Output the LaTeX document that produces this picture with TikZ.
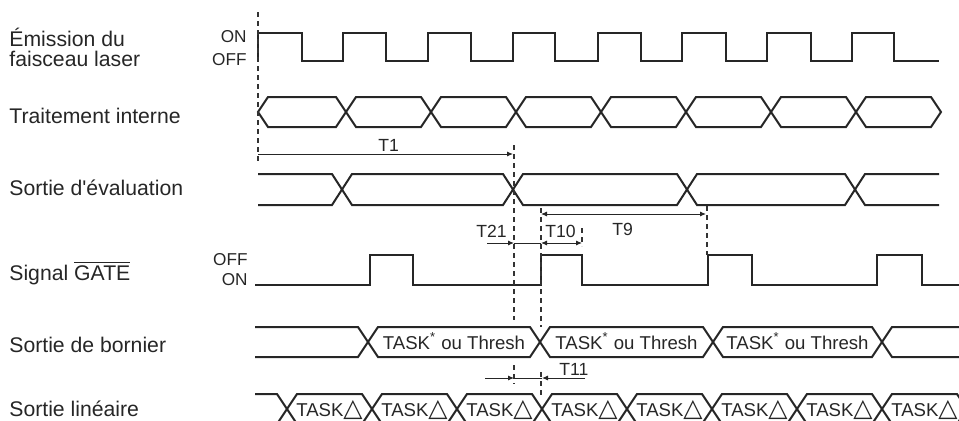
\documentclass[tikz,border=0pt]{standalone}
\usepackage{fontspec}
\setmainfont{Liberation Sans}
\newfontfamily\symfont{DejaVu Sans}
\usetikzlibrary{arrows.meta}

\begin{document}
\begin{tikzpicture}[
        % unit = one pixel of the chart, y pointing down
        x=0.5pt, y=-0.5pt,
        wave/.style={line width=1pt, black!85},
        guide/.style={line width=0.6pt, black!80, dash pattern=on 2.5pt off 2pt},
        dim/.style={line width=0.5pt, black!85},
        tip/.style={-{Latex[length=3pt,width=2.6pt]}},
        both/.style={{Latex[length=3pt,width=2.6pt]}-{Latex[length=3pt,width=2.6pt]}},
        label_text/.style={font=\fontsize{10.6}{12}\selectfont, anchor=base west, inner sep=0pt, text=black!85},
        level_text/.style={font=\fontsize{8.6}{10}\selectfont, anchor=base east, inner sep=0pt, text=black!85},
        bus_text/.style={font=\fontsize{9.3}{11}\selectfont, anchor=base, inner sep=0pt, text=black!85},
        time_text/.style={font=\fontsize{8.8}{10}\selectfont, anchor=base west, inner sep=0pt, text=black!85}
    ]

    \useasboundingbox (0,0) rectangle (959,420);
    \clip (0,0) rectangle (959,420);

    % --- 1. NOMS DES SIGNAUX ---
    \node[label_text] (emis1) at (9,46) {Émission du};
    \node[label_text] (emis2) at (9,66) {faisceau laser};
    \node[label_text] (trait) at (9,123) {Traitement interne};
    \node[label_text] (eval) at (9,195) {Sortie d\textquotesingle évaluation};
    \node[label_text] (gate) at (9,280) {Signal $\overline{\mbox{GATE}}$};
    \node[label_text] (born) at (9,352) {Sortie de bornier};
    \node[label_text] (lin) at (9,416) {Sortie linéaire};

    \node[level_text] (on1) at (247,42) {ON};
    \node[level_text] (off1) at (247,65) {OFF};
    \node[level_text] (off2) at (248,265) {OFF};
    \node[level_text] (on2) at (248,285) {ON};

    % --- 2. CHRONOGRAMMES ---

    % Emission laser
    \draw[wave] (258,61) foreach \r/\f in {258/302, 343/386, 428/471, 513/555, 598/641, 682/726, 767/811, 852/894}
        { -- (\r,61) -- (\r,33) -- (\f,33) -- (\f,61) } -- (939,61);

    % Traitement interne
    \foreach \a/\b in {258/346, 346/431, 431/516, 516/601, 601/686, 686/771, 771/856, 856/941}
        \draw[wave] (\a,112) -- (\a+10,97) -- (\b-10,97) -- (\b,112) -- (\b-10,127) -- (\a+10,127) -- cycle;

    % Sortie d'evaluation
    \draw[wave] (258,174) -- (332,174) -- (342,189.5) -- (332,205) -- (258,205);
    \foreach \a/\b in {342/513, 513/687, 687/855}
        \draw[wave] (\a,189.5) -- (\a+10,174) -- (\b-10,174) -- (\b,189.5) -- (\b-10,205) -- (\a+10,205) -- cycle;
    \draw[wave] (939,174) -- (865,174) -- (855,189.5) -- (865,205) -- (939,205);

    % Signal GATE
    \draw[wave] (255,285) foreach \a/\b in {370/413, 541/582, 708/752, 877/922}
        { -- (\a,285) -- (\a,255) -- (\b,255) -- (\b,285) } -- (959,285);

    % Sortie de bornier
    \draw[wave] (255,327) -- (358,327) -- (368,342) -- (358,357) -- (255,357);
    \foreach \a/\b [count=\i] in {368/540, 540/713, 713/882} {
        \draw[wave] (\a,342) -- (\a+10,327) -- (\b-10,327) -- (\b,342) -- (\b-10,357) -- (\a+10,357) -- cycle;
        \node[bus_text] (task\i) at ({(\a+\b)/2},349) {TASK\textsuperscript{*} ou Thresh};
    }
    \draw[wave] (969,327) -- (892,327) -- (882,342) -- (892,357) -- (969,357);

    % Sortie lineaire
    \draw[wave] (255,394) -- (277,394) -- (287,409) -- (277,424) -- (255,424);
    \foreach \a/\b [count=\i] in {287/372, 372/457, 457/542, 542/627, 627/712, 712/797, 797/882, 882/967} {
        \draw[wave] (\a,409) -- (\a+10,394) -- (\b-10,394) -- (\b,409) -- (\b-10,424) -- (\a+10,424) -- cycle;
        \node[bus_text] (delta\i) at ({(\a+\b)/2},416) {TASK{\symfont\fontsize{12.5}{12}\selectfont △}};
    }

    % --- 3. REPERES EN POINTILLES ---
    \draw[guide] (258,12) -- (258,163);
    \draw[guide] (514,145) -- (514,320);
    \draw[guide] (514,365) -- (514,384);
    \draw[guide] (541,208) -- (541,327);
    \draw[guide] (541,372) -- (541,398);
    \draw[guide] (582,228) -- (582,246);
    \draw[guide] (707,206) -- (707,255);

    % --- 4. COTES DE TEMPS ---
    \coordinate (t1a) at (258,154);
    \coordinate (t1b) at (513,154);
    \draw[dim,tip] (t1a) -- (t1b);
    \node[time_text] (t1) at (378,151) {T1};

    \coordinate (t9a) at (541,214);
    \coordinate (t9b) at (706,214);
    \draw[dim,both] (t9a) -- (t9b);
    \node[time_text] (t9) at (612,235) {T9};

    \coordinate (t21a) at (487,243);
    \coordinate (t21b) at (514,243);
    \coordinate (t10a) at (541,243);
    \coordinate (t10b) at (582,243);
    \draw[dim,tip] (t21a) -- (t21b);
    \draw[dim] (t21b) -- (t10a);
    \draw[dim,both] (t10a) -- (t10b);
    \node[time_text] (t21) at (476,237) {T21};
    \node[time_text] (t10) at (545,237) {T10};

    \coordinate (t11a) at (485,378);
    \coordinate (t11b) at (514,378);
    \coordinate (t11c) at (542,378);
    \coordinate (t11d) at (585,378);
    \draw[dim,tip] (t11a) -- (t11b);
    \draw[dim] (t11b) -- (t11c);
    \draw[dim,tip] (t11d) -- (t11c);
    \node[time_text] (t11) at (559,375) {T11};

\end{tikzpicture}
\end{document}
